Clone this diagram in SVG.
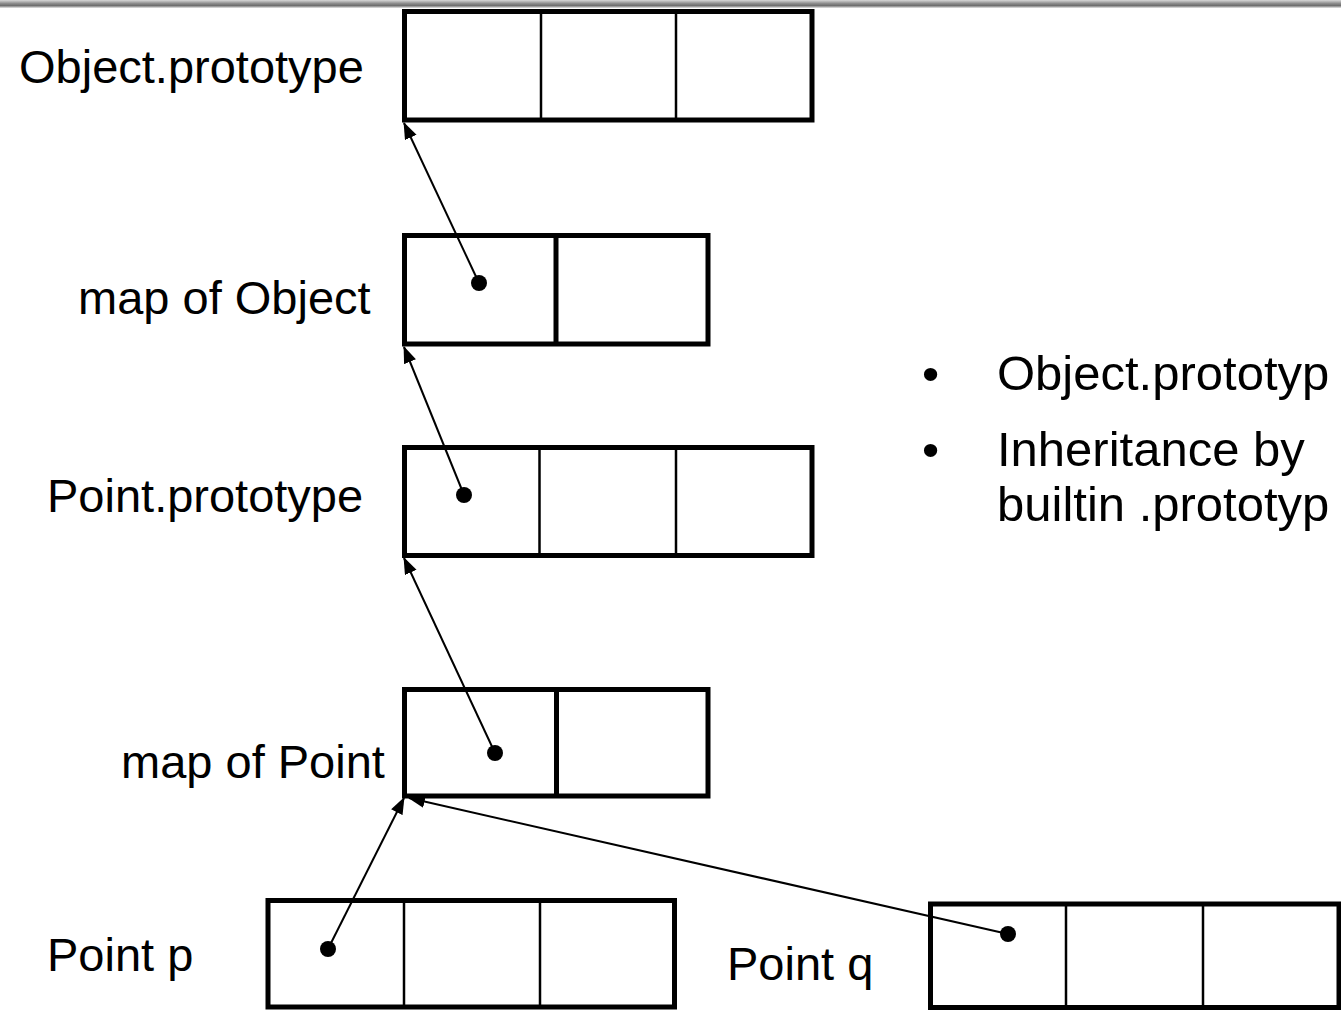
<svg xmlns="http://www.w3.org/2000/svg" width="1341" height="1011" viewBox="0 0 1341 1011">
  <style>
    .lbl { font-family: "Liberation Sans", Arial, sans-serif; font-size: 47px; fill: #000; }
    .note { font-family: "Liberation Sans", Arial, sans-serif; font-size: 49px; fill: #000; }
    .frame { fill: #fff; stroke: #000; stroke-width: 5; }
    .div-thin { stroke: #000; stroke-width: 2.5; }
    .div-thick { stroke: #000; stroke-width: 5; }
    .ptr { stroke: #000; stroke-width: 2; fill: none; marker-end: url(#head); }
    .dot { fill: #000; }
  </style>
  <defs>
    <linearGradient id="topbar" x1="0" y1="0" x2="0" y2="1">
      <stop offset="0" stop-color="#d8d8d8"/>
      <stop offset="0.45" stop-color="#8a8a8a"/>
      <stop offset="0.7" stop-color="#6e6e6e"/>
      <stop offset="1" stop-color="#e8e8e8"/>
    </linearGradient>
    <marker id="head" viewBox="0 0 16 12" refX="15" refY="6" markerWidth="17" markerHeight="13" markerUnits="userSpaceOnUse" orient="auto">
      <path d="M0,0 L16,6 L0,12 z" fill="#000"/>
    </marker>
  </defs>

  <rect x="0" y="0" width="1341" height="1011" fill="#fff"/>
  <rect x="0" y="0" width="1341" height="8" fill="url(#topbar)"/>

  <!-- object layouts -->
  <g id="object-prototype">
    <rect class="frame" x="404.5" y="11.5" width="407.5" height="108.5"/>
    <line class="div-thin" x1="541" y1="11.5" x2="541" y2="120"/>
    <line class="div-thin" x1="676" y1="11.5" x2="676" y2="120"/>
    <text class="lbl" x="19" y="83">Object.prototype</text>
  </g>

  <g id="map-of-object">
    <rect class="frame" x="404.5" y="235.5" width="303.5" height="108.5"/>
    <line class="div-thick" x1="556" y1="235.5" x2="556" y2="344"/>
    <circle class="dot" cx="479" cy="283" r="8"/>
    <text class="lbl" x="78" y="314">map of Object</text>
  </g>

  <g id="point-prototype">
    <rect class="frame" x="404.5" y="447.5" width="407.5" height="108"/>
    <line class="div-thin" x1="539.5" y1="447.5" x2="539.5" y2="555.5"/>
    <line class="div-thin" x1="676" y1="447.5" x2="676" y2="555.5"/>
    <circle class="dot" cx="464" cy="495" r="8"/>
    <text class="lbl" x="47" y="512">Point.prototype</text>
  </g>

  <g id="map-of-point">
    <rect class="frame" x="404.5" y="689.5" width="303.5" height="106.5"/>
    <line class="div-thick" x1="556.5" y1="689.5" x2="556.5" y2="796"/>
    <circle class="dot" cx="495" cy="753" r="8"/>
    <text class="lbl" x="121" y="778">map of Point</text>
  </g>

  <g id="point-p">
    <rect class="frame" x="268" y="900.5" width="406.5" height="106.5"/>
    <line class="div-thin" x1="404" y1="900.5" x2="404" y2="1007"/>
    <line class="div-thin" x1="540" y1="900.5" x2="540" y2="1007"/>
    <circle class="dot" cx="328" cy="949" r="8"/>
    <text class="lbl" x="47" y="971">Point p</text>
  </g>

  <g id="point-q">
    <rect class="frame" x="930.5" y="904" width="408.5" height="103.5"/>
    <line class="div-thin" x1="1066" y1="904" x2="1066" y2="1007.5"/>
    <line class="div-thin" x1="1203" y1="904" x2="1203" y2="1007.5"/>
    <circle class="dot" cx="1008" cy="934" r="8"/>
    <text class="lbl" x="727" y="980">Point q</text>
  </g>

  <!-- prototype pointers -->
  <g id="connectors">
    <line class="ptr" x1="479" y1="283" x2="404" y2="123"/>
    <line class="ptr" x1="464" y1="495" x2="404" y2="347"/>
    <line class="ptr" x1="495" y1="753" x2="404" y2="558"/>
    <line class="ptr" x1="328" y1="949" x2="404" y2="798"/>
    <line class="ptr" x1="1008" y1="934" x2="409" y2="798"/>
  </g>

  <!-- notes -->
  <g id="notes" class="note">
    <text x="922" y="390">•</text>
    <text x="997" y="390">Object.prototyp</text>
    <text x="922" y="466">•</text>
    <text x="997" y="466">Inheritance by</text>
    <text x="997" y="521">builtin .prototyp</text>
  </g>
</svg>
